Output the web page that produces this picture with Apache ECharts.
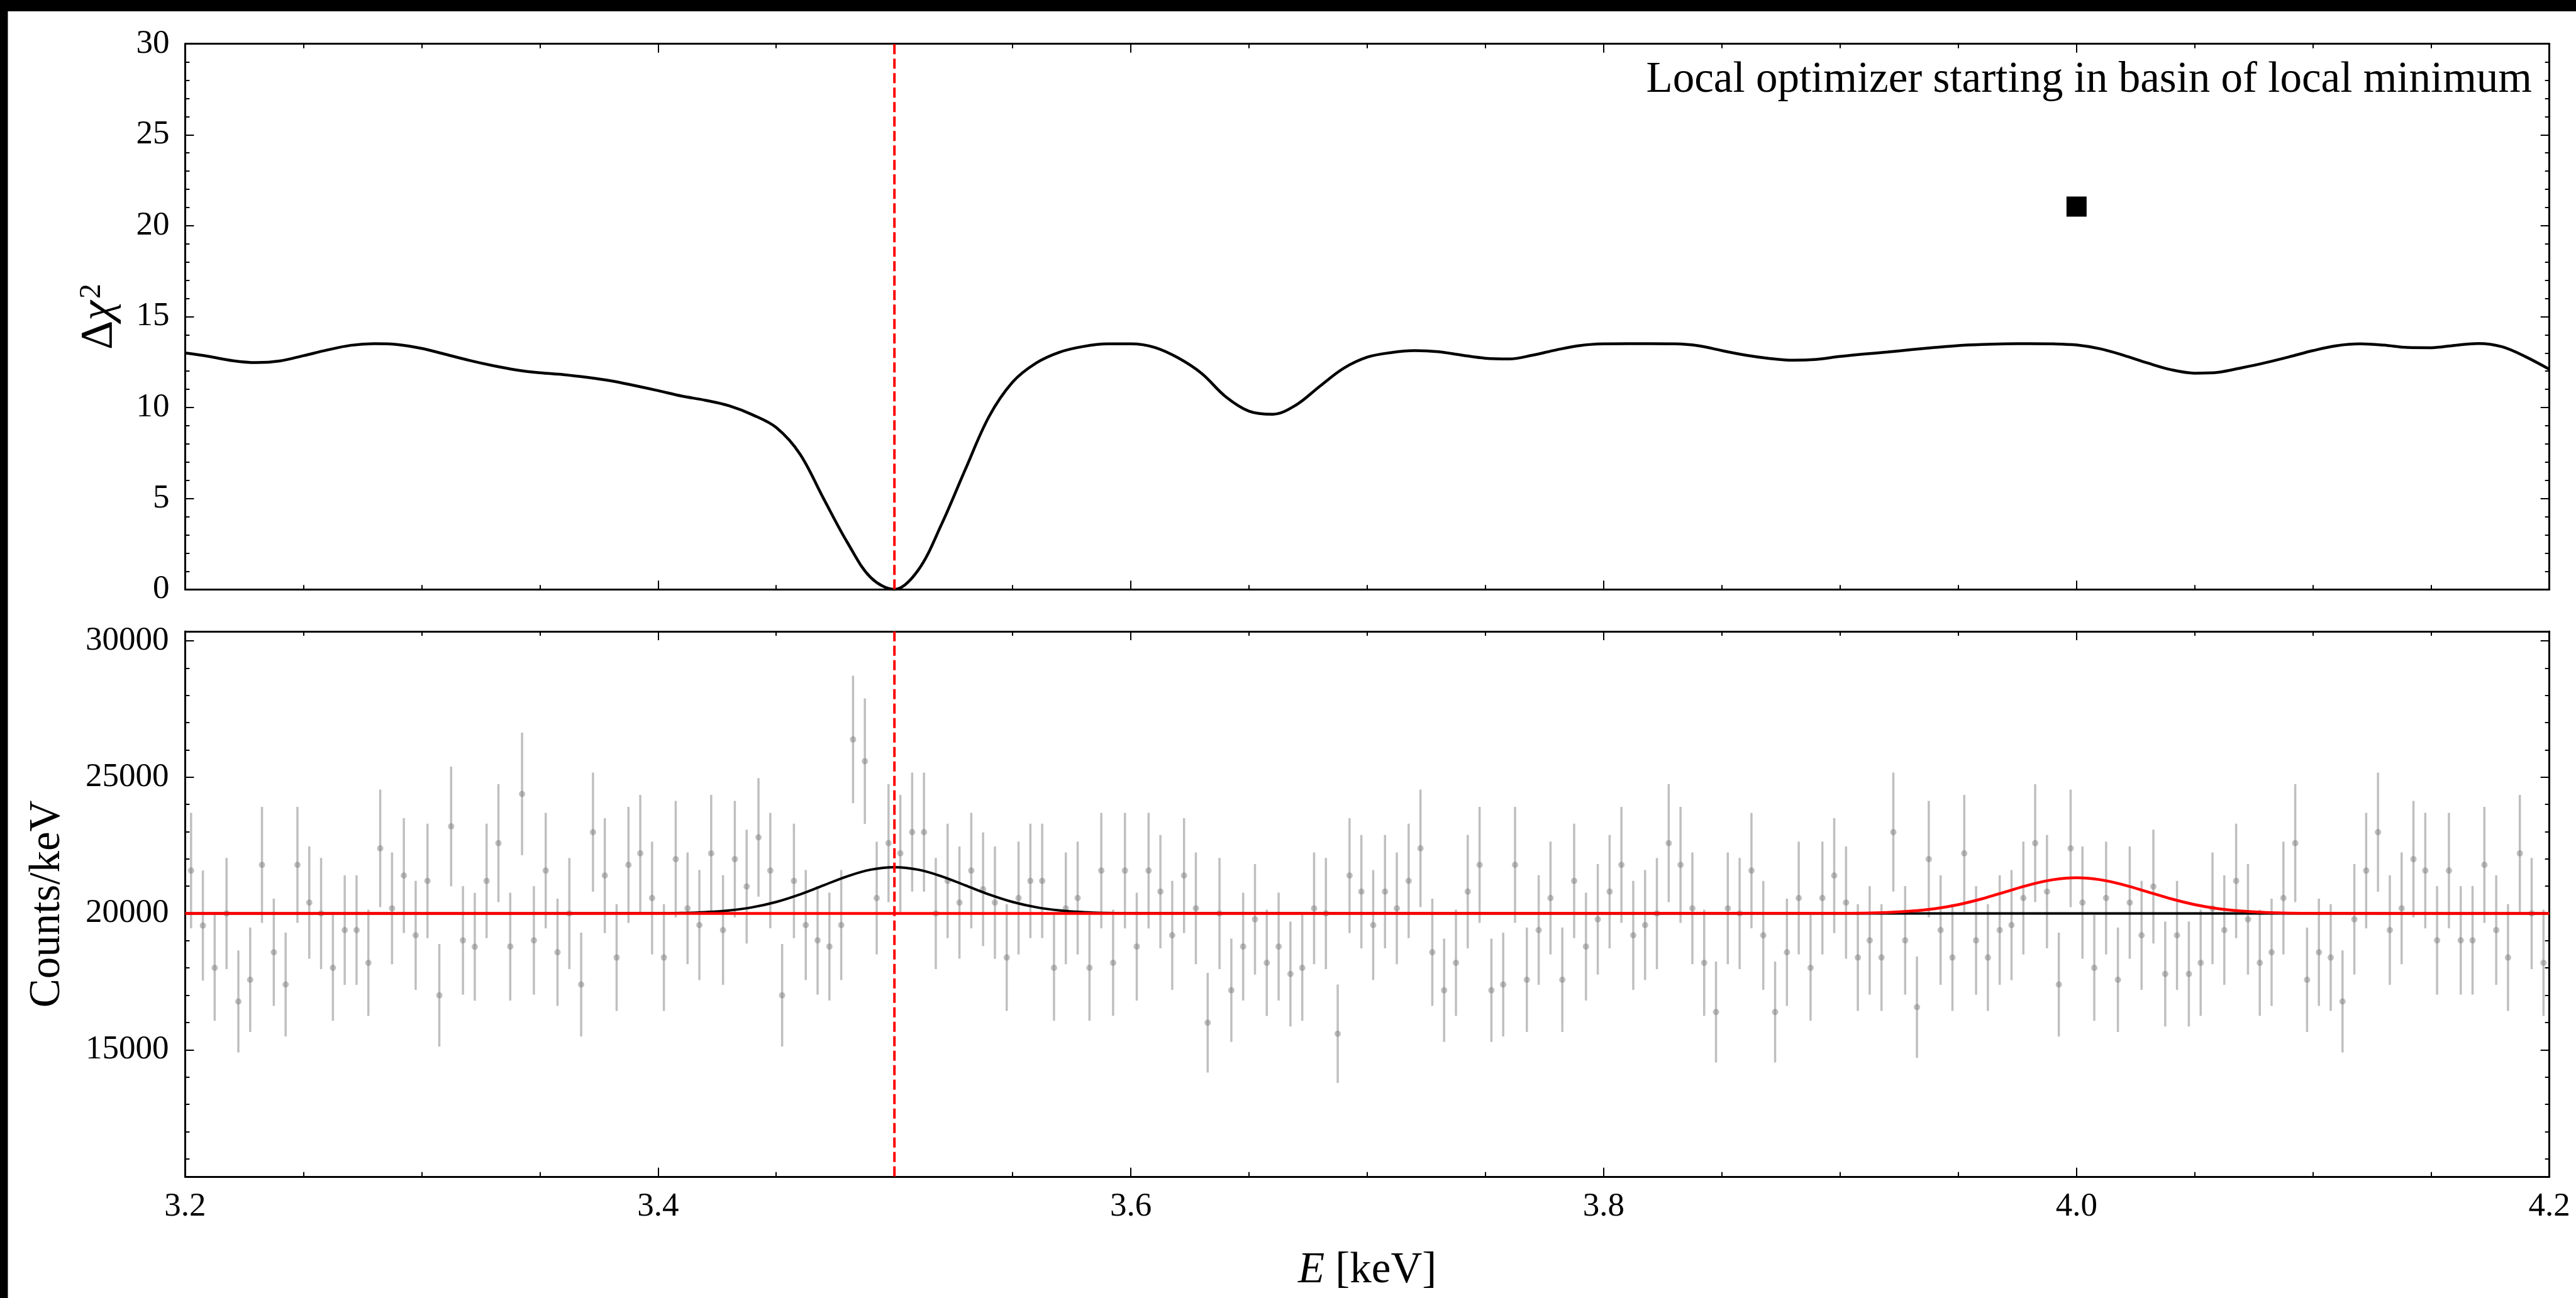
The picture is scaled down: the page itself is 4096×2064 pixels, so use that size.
<!DOCTYPE html>
<html><head><meta charset="utf-8">
<script src="https://cdn.jsdelivr.net/npm/echarts@6/dist/echarts.min.js"></script>
<style>html,body{margin:0;padding:0;background:#fff}#c{width:4096px;height:2064px}</style>
</head><body><div id="c"></div>
<script>
// ---------- data ----------
const scanStart = 3.20, scanStep = 0.01;           // Δχ² scan grid (keV)
const deltaChi2 = [
 13.0, 12.81, 12.58, 12.47, 12.56, 12.85, 13.16, 13.42, 13.51, 13.46,
 13.25, 12.93, 12.6, 12.31, 12.07, 11.91, 11.81, 11.66, 11.47, 11.21,
 10.93, 10.63, 10.4, 10.1, 9.6, 8.9, 7.45, 5.0, 2.6, 0.65,
 0.0, 1.05, 3.6, 6.6, 9.5, 11.4, 12.45, 13.05, 13.36, 13.5,
 13.5, 13.31, 12.73, 11.87, 10.61, 9.8, 9.63, 10.15, 11.18, 12.16,
 12.77, 13.02, 13.13, 13.07, 12.88, 12.71, 12.67, 12.88, 13.17, 13.41,
 13.5, 13.51, 13.51, 13.5, 13.4, 13.13, 12.88, 12.7, 12.6, 12.65,
 12.81, 12.94, 13.05, 13.18, 13.3, 13.41, 13.47, 13.5, 13.51, 13.5,
 13.44, 13.23, 12.87, 12.45, 12.08, 11.89, 11.94, 12.19, 12.47, 12.79,
 13.13, 13.4, 13.5, 13.43, 13.3, 13.29, 13.42, 13.52, 13.34, 12.79,
 12.1
];
const startPoint = [4.0, 21.05];                    // black square marker

const binStart = 3.2025, binWidth = 0.005;          // spectrum bin centres (keV)
const counts = [
 21574, 19559, 18006, 20000, 16772, 17569, 21784, 18577, 17393, 21784,
 20399, 20000, 18006, 19391, 19391, 18191, 22389, 20189, 21390, 19198,
 21196, 16998, 23195, 19013, 18778, 21196, 22582, 18787, 24387, 19013,
 21574, 18577, 20000, 17393, 22985, 21390, 18384, 21784, 22204, 20567,
 18384, 21994, 20189, 19576, 22204, 19391, 21994, 20987, 22792, 21574,
 16998, 21196, 19576, 19013, 18787, 19576, 26385, 25588, 20567, 22582,
 22204, 22985, 22985, 20000, 21196, 20399, 21574, 20890, 20399, 18384,
 20567, 21196, 21196, 18006, 20189, 20567, 18006, 21574, 18191, 21574,
 18787, 21574, 20802, 19198, 21390, 20189, 15991, 20000, 17183, 18787,
 19786, 18191, 18787, 17779, 18006, 20189, 20000, 15588, 21390, 20802,
 19576, 20802, 20189, 21196, 22389, 18577, 17183, 18191, 20802, 21784,
 17183, 17393, 21784, 17569, 19391, 20567, 17569, 21196, 18787, 19786,
 20802, 21784, 19198, 19576, 20000, 22582, 21784, 20189, 18191, 16386,
 20189, 20000, 21574, 19198, 16386, 18577, 20567, 18006, 20567, 21390,
 20399, 18384, 19013, 18384, 22985, 19013, 16562, 21994, 19391, 18384,
 22204, 19013, 18384, 19391, 19576, 20567, 22582, 20802, 17393, 22389,
 20399, 18006, 20567, 17569, 20399, 19198, 20987, 17779, 19198, 17779,
 18191, 20189, 19391, 21196, 19786, 18191, 18577, 20567, 22582, 17569,
 18577, 18384, 16772, 19786, 21574, 22985, 19391, 20189, 21994, 21574,
 19013, 21574, 19013, 19013, 21784, 19391, 18384, 22204, 20000, 18191
];
const continuum = 20000;                            // flat model level
const blackPeakE = [3.40,3.41,3.42,3.43,3.44,3.45,3.46,3.47,3.48,3.49,3.50,3.51,3.52,3.53,3.54,3.55,3.56,3.57,3.58,3.59,3.60];
const blackPeakV = [20007,20019,20049,20112,20230,20423,20699,21031,21362,21608,21700,21608,21362,21031,20699,20423,20230,20112,20049,20019,20007];
const redPeakE   = [3.90,3.91,3.92,3.93,3.94,3.95,3.96,3.97,3.98,3.99,4.00,4.01,4.02,4.03,4.04,4.05,4.06,4.07,4.08,4.09,4.10];
const redPeakV   = [20005,20014,20038,20086,20177,20326,20538,20795,21049,21239,21310,21239,21049,20795,20538,20326,20177,20086,20038,20014,20005];
const bestFitE = 3.5;                               // red dashed line

const eRange = [3.2, 4.2];
const chiRange = [0, 30];
const countRange = [10350, 30350];
const countMajorTicks = [15000, 20000, 25000, 30000];
const countMinorTicks = [11000,12000,13000,14000,16000,17000,18000,19000,21000,22000,23000,24000,26000,27000,28000,29000];

// ---------- chart ----------
const F = "'Liberation Serif','DejaVu Serif',serif";
const chart = echarts.init(document.getElementById('c'), null, {renderer: 'canvas'});

const LINE = {color: '#000', width: 3};
const TICK = {color: '#000', width: 2};

function xAx(grid, pos, showLabel, extra) {
  return Object.assign({
    type: 'value', gridIndex: grid, position: pos, min: eRange[0], max: eRange[1], interval: 0.2,
    axisLine: {show: true, onZero: false, lineStyle: LINE},
    axisTick: {show: true, inside: true, length: 14, lineStyle: TICK},
    minorTick: {show: true, splitNumber: 4, length: 7, lineStyle: TICK},
    axisLabel: {show: showLabel, margin: 22, fontFamily: F, fontSize: 53, color: '#000',
                formatter: v => v.toFixed(1)},
    splitLine: {show: false}, minorSplitLine: {show: false}
  }, extra || {});
}
function chiAx(pos, showLabel, extra) {
  return Object.assign({
    type: 'value', gridIndex: 0, position: pos, min: chiRange[0], max: chiRange[1], interval: 5,
    axisLine: {show: true, onZero: false, lineStyle: LINE},
    axisTick: {show: true, inside: true, length: 14, lineStyle: TICK},
    minorTick: {show: true, splitNumber: 5, length: 7, lineStyle: TICK},
    axisLabel: {show: showLabel, margin: 25, fontFamily: F, fontSize: 53, color: '#000'},
    splitLine: {show: false}, minorSplitLine: {show: false}
  }, extra || {});
}
function cntAx(pos, showLabel, ticks, len, showLine, extra) {
  return Object.assign({
    type: 'value', gridIndex: 1, position: pos, min: countRange[0], max: countRange[1],
    axisLine: {show: showLine, onZero: false, lineStyle: LINE},
    axisTick: {show: true, inside: true, length: len, lineStyle: TICK, customValues: ticks},
    axisLabel: {show: showLabel, margin: 26, fontFamily: F, fontSize: 53, color: '#000',
                customValues: ticks, formatter: v => String(v)},
    splitLine: {show: false}
  }, extra || {});
}

const option = {
  animation: false,
  backgroundColor: '#ffffff',
  grid: [
    {left: 294.4, right: 42.3, top: 69.7, height: 867.5},
    {left: 294.4, right: 42.3, top: 1004, height: 866.8}
  ],
  xAxis: [
    xAx(0, 'bottom', false),
    xAx(0, 'top', false),
    xAx(1, 'bottom', true, {
      name: '{i|E} [keV]', nameLocation: 'middle', nameGap: 116,
      nameTextStyle: {fontFamily: F, fontSize: 69, color: '#000',
        rich: {i: {fontFamily: F, fontSize: 69, fontStyle: 'italic', color: '#000'}}}
    }),
    xAx(1, 'top', false)
  ],
  yAxis: [
    chiAx('left', true, {
      name: '{d|Δ}{c|χ}{s|2}', nameLocation: 'middle', nameRotate: 90, nameGap: 100,
      nameTextStyle: {fontFamily: F, fontSize: 72, color: '#000',
        rich: {
          d: {fontFamily: F, fontSize: 72, color: '#000', lineHeight: 72, verticalAlign: 'bottom'},
          c: {fontFamily: F, fontSize: 72, fontStyle: 'italic', color: '#000', lineHeight: 72, verticalAlign: 'bottom'},
          s: {fontFamily: F, fontSize: 48, color: '#000', lineHeight: 48, verticalAlign: 'top', padding: [0, 0, 0, 3]}
        }}
    }),
    chiAx('right', false),
    cntAx('left', true, countMajorTicks, 14, true, {
      name: 'Counts/keV', nameLocation: 'middle', nameRotate: 90, nameGap: 184,
      nameTextStyle: {fontFamily: F, fontSize: 69, color: '#000'}
    }),
    cntAx('right', false, countMajorTicks, 14, true),
    cntAx('left', false, countMinorTicks, 7, false),
    cntAx('right', false, countMinorTicks, 7, false)
  ],
  graphic: [
    {type: 'rect', left: 0, top: 0, shape: {width: 4096, height: 18}, style: {fill: '#000'}, z: 100},
    {type: 'rect', left: 0, top: 0, shape: {width: 12.5, height: 2064}, style: {fill: '#000'}, z: 100},
    {type: 'text', x: 4026, y: 128, z: 100,
     style: {text: 'Local optimizer starting in basin of local minimum', font: '69px ' + F,
             fill: '#000', align: 'right', verticalAlign: 'middle', textAlign: 'right', textVerticalAlign: 'middle'}}
  ],
  series: [
    // Δχ² scan
    {type: 'line', xAxisIndex: 0, yAxisIndex: 0, showSymbol: false, smooth: 0.35,
     data: deltaChi2.map((v, i) => [scanStart + i * scanStep, v]),
     lineStyle: {color: '#000', width: 4.5}, z: 3},
    {type: 'scatter', xAxisIndex: 0, yAxisIndex: 0, symbol: 'rect', symbolSize: 32,
     data: [startPoint], itemStyle: {color: '#000', opacity: 1}, z: 4},
    {type: 'line', xAxisIndex: 0, yAxisIndex: 0, showSymbol: false,
     data: [[bestFitE, chiRange[0]], [bestFitE, chiRange[1]]],
     lineStyle: {color: '#ff0000', width: 4, type: [16, 7]}, z: 5},
    // spectrum error bars
    {type: 'custom', xAxisIndex: 2, yAxisIndex: 2, silent: true, z: 2,
     data: counts.map((v, i) => [binStart + i * binWidth, v, Math.sqrt(v / binWidth)]),
     encode: {x: 0, y: 1},
     renderItem: (params, api) => {
       const x = api.value(0), y = api.value(1), e = api.value(2);
       const p1 = api.coord([x, y - e]), p2 = api.coord([x, y + e]);
       return {type: 'line', shape: {x1: p1[0], y1: p1[1], x2: p2[0], y2: p2[1]},
               style: {stroke: 'rgba(128,128,128,0.5)', lineWidth: 3.5, lineCap: 'square'}};
     }},
    {type: 'scatter', xAxisIndex: 2, yAxisIndex: 2, symbol: 'circle', symbolSize: 10, z: 2,
     data: counts.map((v, i) => [binStart + i * binWidth, v]),
     itemStyle: {color: 'rgba(128,128,128,0.5)', opacity: 1}},
    // models
    {type: 'line', xAxisIndex: 2, yAxisIndex: 2, showSymbol: false, smooth: 0.4, z: 3,
     data: [[eRange[0], continuum]].concat(blackPeakE.map((e, i) => [e, blackPeakV[i]]), [[eRange[1], continuum]]),
     lineStyle: {color: '#000', width: 4}},
    {type: 'line', xAxisIndex: 2, yAxisIndex: 2, showSymbol: false, smooth: 0.4, z: 4,
     data: [[eRange[0], continuum]].concat(redPeakE.map((e, i) => [e, redPeakV[i]]), [[eRange[1], continuum]]),
     lineStyle: {color: '#ff0000', width: 4.5}},
    {type: 'line', xAxisIndex: 2, yAxisIndex: 2, showSymbol: false, z: 5,
     data: [[bestFitE, countRange[0]], [bestFitE, countRange[1]]],
     lineStyle: {color: '#ff0000', width: 4, type: [16, 7]}}
  ]
};
chart.setOption(option);
</script>
</body></html>
